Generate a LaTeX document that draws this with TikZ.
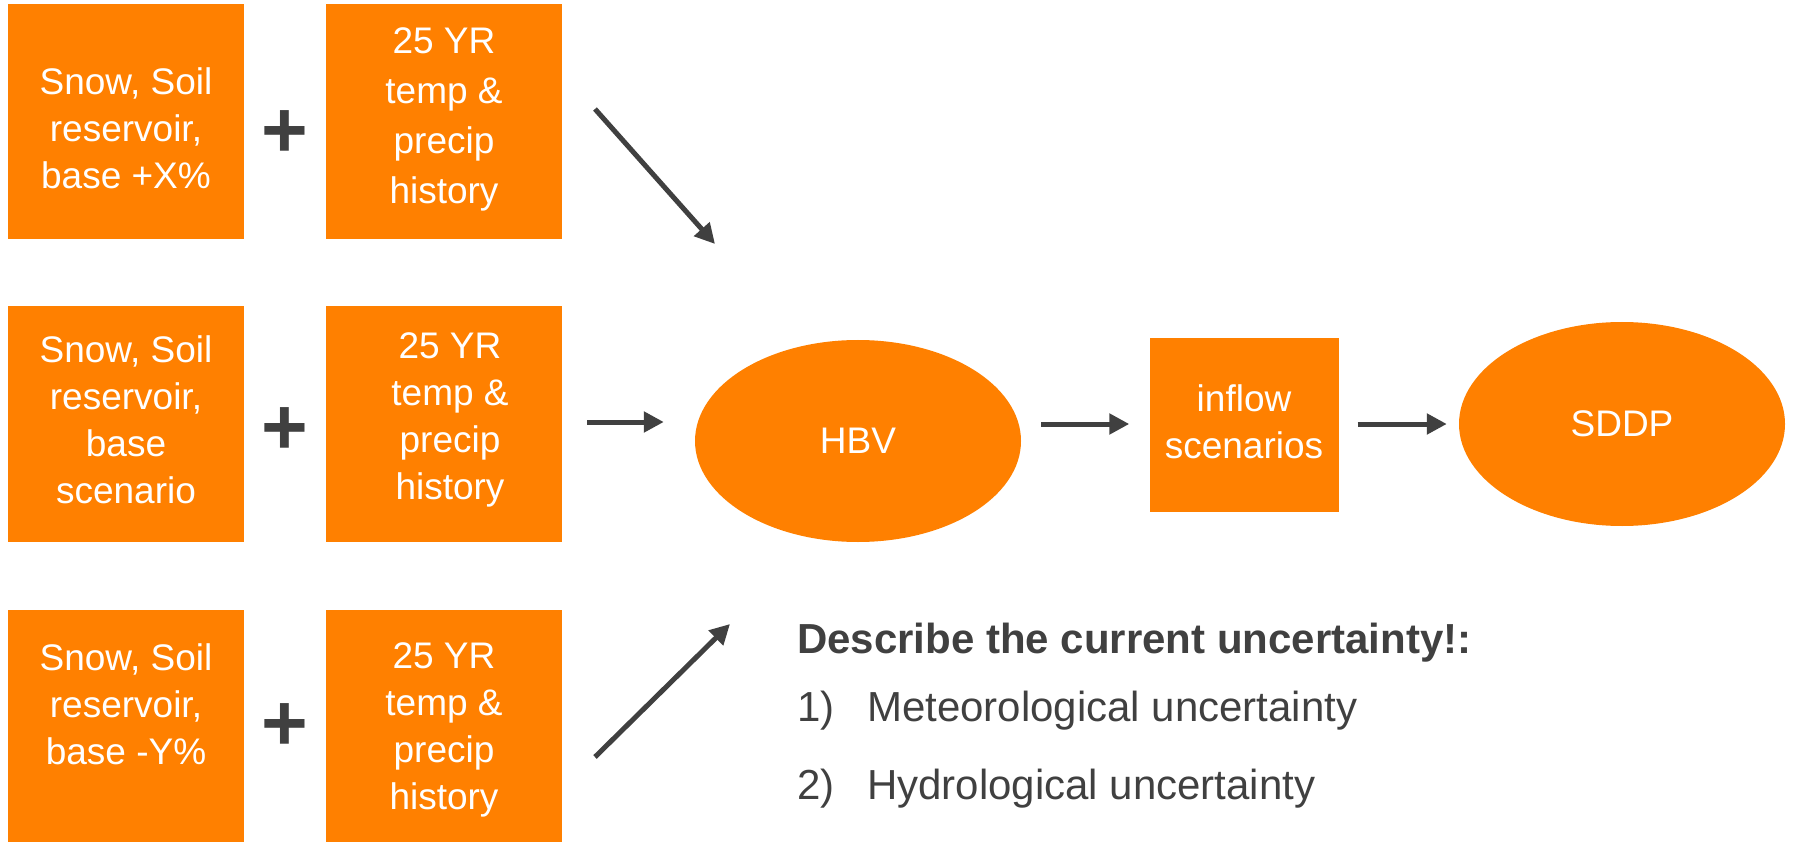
\documentclass[tikz,border=0pt]{standalone}
\usepackage{fontspec}
\setmainfont{Liberation Sans}
\usetikzlibrary{shapes.geometric,arrows.meta}
\definecolor{org}{RGB}{255,128,0}
\definecolor{dk}{RGB}{64,64,64}
\tikzset{
  box/.style={fill=org, draw=none, inner sep=0pt, text=white, align=center,
    font=\fontsize{37}{47}\selectfont},
  oval/.style={ellipse, fill=org, draw=none, inner sep=0pt, text=white,
    font=\fontsize{37}{47}\selectfont},
  arr/.style={draw=dk, line width=5pt, -{Triangle[length=20pt,width=20pt]}},
  plussign/.style={text=dk, font=\fontsize{80}{80}\selectfont\bfseries, inner sep=0pt},
  txt/.style={text=dk, anchor=west, inner sep=0pt, font=\fontsize{42}{50}\selectfont},
}
\begin{document}
\begin{tikzpicture}[x=1pt,y=-1pt]
\useasboundingbox (0,0) rectangle (1794,842);
% row 1
\node[box, minimum width=236pt, minimum height=235pt] (a1) at (126,122) {};
\node[box] (a1t) at (126,128) {Snow, Soil\\reservoir,\\base +X\%};
\node[box, minimum width=236pt, minimum height=235pt] (b1) at (444,122) {};
\node[box, font=\fontsize{37}{50}\selectfont] (b1t) at (444,119) {25 YR\\temp \&\\precip\\history};
\node[plussign] (p1) at (285,134) {+};
% row 2
\node[box, minimum width=236pt, minimum height=235pt] (a2) at (126,424) {};
\node[box] (a2t) at (126,420) {Snow, Soil\\reservoir,\\base\\scenario};
\node[box, minimum width=236pt, minimum height=235pt] (b2) at (444,424) {};
\node[box] (b2t) at (450,420) {25 YR\\temp \&\\precip\\history};
\node[plussign] (p2) at (285,431) {+};
% row 3
\node[box, minimum width=236pt, minimum height=240pt] (a3) at (126,730) {};
\node[box] (a3t) at (126,704) {Snow, Soil\\reservoir,\\base -Y\%};
\node[box, minimum width=236pt, minimum height=240pt] (b3) at (444,730) {};
\node[box] (b3t) at (444,730) {25 YR\\temp \&\\precip\\history};
\node[plussign] (p3) at (285,727) {+};
% main chain
\node[oval, minimum width=326pt, minimum height=202pt] (hbv) at (858,441) {HBV};
\node[box, minimum width=189pt, minimum height=173pt] (inf) at (1244,425) {};
\node[box] (inft) at (1244,422) {inflow\\scenarios};
\node[oval, minimum width=326pt, minimum height=204pt] (sddp) at (1622,424) {SDDP};
% arrows
\coordinate (s1) at (595,109);
\coordinate (e1) at (715,244);
\coordinate (s3) at (595,757);
\coordinate (e3) at (730,624);
\draw[arr] (s1) -- (e1);
\draw[arr] (s3) -- (e3);
\draw[arr, shorten <=25pt, shorten >=31pt] ([yshift=2pt]b2.east) -- ([yshift=2pt]b2.east -| hbv.west);
\draw[arr, shorten <=20pt, shorten >=20pt] ([yshift=1pt]inf.west -| hbv.east) -- ([yshift=1pt]inf.west);
\draw[arr, shorten <=19pt, shorten >=12pt] ([yshift=1pt]inf.east) -- ([yshift=1pt]inf.east -| sddp.west);
% text
\node[txt, font=\fontsize{42}{50}\selectfont\bfseries] (head) at (797,643) {Describe the current uncertainty!:};
\node[txt] (n1) at (797,711) {1)};
\node[txt] (l1) at (867,711) {Meteorological uncertainty};
\node[txt] (n2) at (797,789) {2)};
\node[txt] (l2) at (867,789) {Hydrological uncertainty};
\end{tikzpicture}
\end{document}
